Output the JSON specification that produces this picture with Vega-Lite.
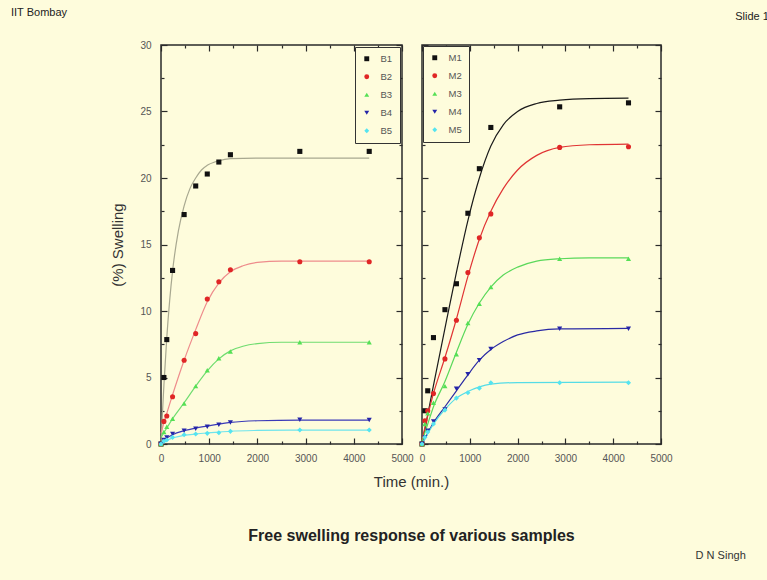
{
  "$schema": "https://vega.github.io/schema/vega-lite/v6.json",
  "background": "#fefcdc",
  "padding": {"left": 10, "top": 6, "right": 0, "bottom": 30},
  "bounds": "flush",
  "spacing": 20,
  "config": {
    "font": "Liberation Sans",
    "view": {"stroke": "#2a2a2a", "strokeWidth": 1.5},
    "axis": {"domain": false, "grid": false, "tickColor": "#2a2a2a", "tickWidth": 1.2, "labelFont": "Liberation Sans", "labelFontSize": 10, "labelColor": "#555555", "titleFont": "Liberation Sans", "titleFontSize": 15, "titleFontWeight": "normal", "titleColor": "#333333"},
    "legend": {"labelFont": "Liberation Sans"},
    "title": {"font": "Liberation Sans"}
  },
  "title": {"text": "D N Singh", "orient": "bottom", "anchor": "end", "fontSize": 11, "fontWeight": "normal", "color": "#333333", "dx": -30, "offset": 6},
  "datasets": {
    "pts": [
      {"p":"B","s":"B1","t":0,"v":0},{"p":"B","s":"B1","t":60,"v":5.0},{"p":"B","s":"B1","t":120,"v":7.85},{"p":"B","s":"B1","t":240,"v":13.05},{"p":"B","s":"B1","t":480,"v":17.25},{"p":"B","s":"B1","t":720,"v":19.4},{"p":"B","s":"B1","t":960,"v":20.3},{"p":"B","s":"B1","t":1200,"v":21.2},{"p":"B","s":"B1","t":1440,"v":21.75},{"p":"B","s":"B1","t":2880,"v":22.0},{"p":"B","s":"B1","t":4320,"v":22.0},
      {"p":"B","s":"B2","t":0,"v":0},{"p":"B","s":"B2","t":60,"v":1.7},{"p":"B","s":"B2","t":120,"v":2.1},{"p":"B","s":"B2","t":240,"v":3.55},{"p":"B","s":"B2","t":480,"v":6.3},{"p":"B","s":"B2","t":720,"v":8.3},{"p":"B","s":"B2","t":960,"v":10.9},{"p":"B","s":"B2","t":1200,"v":12.2},{"p":"B","s":"B2","t":1440,"v":13.1},{"p":"B","s":"B2","t":2880,"v":13.7},{"p":"B","s":"B2","t":4320,"v":13.7},
      {"p":"B","s":"B3","t":0,"v":0},{"p":"B","s":"B3","t":60,"v":0.9},{"p":"B","s":"B3","t":120,"v":1.3},{"p":"B","s":"B3","t":240,"v":1.9},{"p":"B","s":"B3","t":480,"v":3.05},{"p":"B","s":"B3","t":720,"v":4.35},{"p":"B","s":"B3","t":960,"v":5.55},{"p":"B","s":"B3","t":1200,"v":6.45},{"p":"B","s":"B3","t":1440,"v":6.95},{"p":"B","s":"B3","t":2880,"v":7.65},{"p":"B","s":"B3","t":4320,"v":7.65},
      {"p":"B","s":"B4","t":0,"v":0},{"p":"B","s":"B4","t":60,"v":0.3},{"p":"B","s":"B4","t":120,"v":0.5},{"p":"B","s":"B4","t":240,"v":0.75},{"p":"B","s":"B4","t":480,"v":1.0},{"p":"B","s":"B4","t":720,"v":1.15},{"p":"B","s":"B4","t":960,"v":1.3},{"p":"B","s":"B4","t":1200,"v":1.45},{"p":"B","s":"B4","t":1440,"v":1.62},{"p":"B","s":"B4","t":2880,"v":1.82},{"p":"B","s":"B4","t":4320,"v":1.8},
      {"p":"B","s":"B5","t":0,"v":0},{"p":"B","s":"B5","t":60,"v":0.2},{"p":"B","s":"B5","t":120,"v":0.3},{"p":"B","s":"B5","t":240,"v":0.5},{"p":"B","s":"B5","t":480,"v":0.7},{"p":"B","s":"B5","t":720,"v":0.75},{"p":"B","s":"B5","t":960,"v":0.8},{"p":"B","s":"B5","t":1200,"v":0.85},{"p":"B","s":"B5","t":1440,"v":0.95},{"p":"B","s":"B5","t":2880,"v":1.05},{"p":"B","s":"B5","t":4320,"v":1.05},
      {"p":"M","s":"M1","t":0,"v":0},{"p":"M","s":"M1","t":60,"v":2.5},{"p":"M","s":"M1","t":120,"v":4.0},{"p":"M","s":"M1","t":240,"v":8.0},{"p":"M","s":"M1","t":480,"v":10.1},{"p":"M","s":"M1","t":720,"v":12.05},{"p":"M","s":"M1","t":960,"v":17.35},{"p":"M","s":"M1","t":1200,"v":20.7},{"p":"M","s":"M1","t":1440,"v":23.8},{"p":"M","s":"M1","t":2880,"v":25.35},{"p":"M","s":"M1","t":4320,"v":25.65},
      {"p":"M","s":"M2","t":0,"v":0},{"p":"M","s":"M2","t":60,"v":1.75},{"p":"M","s":"M2","t":120,"v":2.5},{"p":"M","s":"M2","t":240,"v":3.8},{"p":"M","s":"M2","t":480,"v":6.4},{"p":"M","s":"M2","t":720,"v":9.3},{"p":"M","s":"M2","t":960,"v":12.9},{"p":"M","s":"M2","t":1200,"v":15.5},{"p":"M","s":"M2","t":1440,"v":17.3},{"p":"M","s":"M2","t":2880,"v":22.3},{"p":"M","s":"M2","t":4320,"v":22.35},
      {"p":"M","s":"M3","t":0,"v":0},{"p":"M","s":"M3","t":60,"v":1.5},{"p":"M","s":"M3","t":120,"v":2.3},{"p":"M","s":"M3","t":240,"v":3.1},{"p":"M","s":"M3","t":480,"v":4.35},{"p":"M","s":"M3","t":720,"v":6.75},{"p":"M","s":"M3","t":960,"v":9.1},{"p":"M","s":"M3","t":1200,"v":10.55},{"p":"M","s":"M3","t":1440,"v":11.8},{"p":"M","s":"M3","t":2880,"v":13.93},{"p":"M","s":"M3","t":4320,"v":13.93},
      {"p":"M","s":"M4","t":0,"v":0},{"p":"M","s":"M4","t":60,"v":0.5},{"p":"M","s":"M4","t":120,"v":1.0},{"p":"M","s":"M4","t":240,"v":1.7},{"p":"M","s":"M4","t":480,"v":2.6},{"p":"M","s":"M4","t":720,"v":4.15},{"p":"M","s":"M4","t":960,"v":5.25},{"p":"M","s":"M4","t":1200,"v":6.3},{"p":"M","s":"M4","t":1440,"v":7.15},{"p":"M","s":"M4","t":2880,"v":8.67},{"p":"M","s":"M4","t":4320,"v":8.67},
      {"p":"M","s":"M5","t":0,"v":0},{"p":"M","s":"M5","t":60,"v":0.5},{"p":"M","s":"M5","t":120,"v":0.9},{"p":"M","s":"M5","t":240,"v":1.5},{"p":"M","s":"M5","t":480,"v":2.55},{"p":"M","s":"M5","t":720,"v":3.45},{"p":"M","s":"M5","t":960,"v":3.85},{"p":"M","s":"M5","t":1200,"v":4.2},{"p":"M","s":"M5","t":1440,"v":4.6},{"p":"M","s":"M5","t":2880,"v":4.6},{"p":"M","s":"M5","t":4320,"v":4.6}
    ],
    "fit": [
      {"p":"B","s":"B1","t":0,"v":0},{"p":"B","s":"B1","t":30,"v":2.3},{"p":"B","s":"B1","t":60,"v":4.4},{"p":"B","s":"B1","t":120,"v":8.0},{"p":"B","s":"B1","t":180,"v":10.8},{"p":"B","s":"B1","t":240,"v":13.0},{"p":"B","s":"B1","t":360,"v":16.0},{"p":"B","s":"B1","t":480,"v":17.9},{"p":"B","s":"B1","t":600,"v":19.2},{"p":"B","s":"B1","t":720,"v":20.0},{"p":"B","s":"B1","t":840,"v":20.6},{"p":"B","s":"B1","t":960,"v":20.95},{"p":"B","s":"B1","t":1200,"v":21.3},{"p":"B","s":"B1","t":1440,"v":21.45},{"p":"B","s":"B1","t":2000,"v":21.5},{"p":"B","s":"B1","t":3000,"v":21.5},{"p":"B","s":"B1","t":4320,"v":21.5},
      {"p":"B","s":"B2","t":0,"v":0.8},{"p":"B","s":"B2","t":60,"v":1.6},{"p":"B","s":"B2","t":120,"v":2.3},{"p":"B","s":"B2","t":240,"v":3.7},{"p":"B","s":"B2","t":480,"v":6.3},{"p":"B","s":"B2","t":720,"v":8.6},{"p":"B","s":"B2","t":960,"v":10.7},{"p":"B","s":"B2","t":1200,"v":12.1},{"p":"B","s":"B2","t":1440,"v":12.95},{"p":"B","s":"B2","t":1700,"v":13.4},{"p":"B","s":"B2","t":2000,"v":13.65},{"p":"B","s":"B2","t":2500,"v":13.75},{"p":"B","s":"B2","t":4320,"v":13.75},
      {"p":"B","s":"B3","t":0,"v":0.5},{"p":"B","s":"B3","t":120,"v":1.2},{"p":"B","s":"B3","t":240,"v":1.9},{"p":"B","s":"B3","t":480,"v":3.1},{"p":"B","s":"B3","t":720,"v":4.35},{"p":"B","s":"B3","t":960,"v":5.5},{"p":"B","s":"B3","t":1200,"v":6.4},{"p":"B","s":"B3","t":1440,"v":7.0},{"p":"B","s":"B3","t":1700,"v":7.35},{"p":"B","s":"B3","t":2000,"v":7.55},{"p":"B","s":"B3","t":2500,"v":7.65},{"p":"B","s":"B3","t":4320,"v":7.65},
      {"p":"B","s":"B4","t":0,"v":0.1},{"p":"B","s":"B4","t":120,"v":0.45},{"p":"B","s":"B4","t":240,"v":0.7},{"p":"B","s":"B4","t":480,"v":1.0},{"p":"B","s":"B4","t":720,"v":1.2},{"p":"B","s":"B4","t":960,"v":1.35},{"p":"B","s":"B4","t":1200,"v":1.5},{"p":"B","s":"B4","t":1440,"v":1.62},{"p":"B","s":"B4","t":2000,"v":1.75},{"p":"B","s":"B4","t":2880,"v":1.8},{"p":"B","s":"B4","t":4320,"v":1.8},
      {"p":"B","s":"B5","t":0,"v":0.05},{"p":"B","s":"B5","t":120,"v":0.3},{"p":"B","s":"B5","t":240,"v":0.45},{"p":"B","s":"B5","t":480,"v":0.65},{"p":"B","s":"B5","t":720,"v":0.75},{"p":"B","s":"B5","t":960,"v":0.83},{"p":"B","s":"B5","t":1200,"v":0.9},{"p":"B","s":"B5","t":1440,"v":0.96},{"p":"B","s":"B5","t":2000,"v":1.02},{"p":"B","s":"B5","t":2880,"v":1.05},{"p":"B","s":"B5","t":4320,"v":1.05},
      {"p":"M","s":"M1","t":0,"v":0},{"p":"M","s":"M1","t":240,"v":4.4},{"p":"M","s":"M1","t":480,"v":8.7},{"p":"M","s":"M1","t":720,"v":12.9},{"p":"M","s":"M1","t":960,"v":16.8},{"p":"M","s":"M1","t":1200,"v":20.0},{"p":"M","s":"M1","t":1440,"v":22.4},{"p":"M","s":"M1","t":1700,"v":24.0},{"p":"M","s":"M1","t":2000,"v":25.0},{"p":"M","s":"M1","t":2400,"v":25.6},{"p":"M","s":"M1","t":2880,"v":25.85},{"p":"M","s":"M1","t":3500,"v":25.97},{"p":"M","s":"M1","t":4320,"v":26.0},
      {"p":"M","s":"M2","t":0,"v":0.3},{"p":"M","s":"M2","t":240,"v":3.8},{"p":"M","s":"M2","t":480,"v":6.5},{"p":"M","s":"M2","t":720,"v":9.4},{"p":"M","s":"M2","t":960,"v":12.6},{"p":"M","s":"M2","t":1200,"v":15.4},{"p":"M","s":"M2","t":1440,"v":17.5},{"p":"M","s":"M2","t":1700,"v":19.2},{"p":"M","s":"M2","t":2000,"v":20.6},{"p":"M","s":"M2","t":2400,"v":21.7},{"p":"M","s":"M2","t":2880,"v":22.3},{"p":"M","s":"M2","t":3500,"v":22.5},{"p":"M","s":"M2","t":4320,"v":22.55},
      {"p":"M","s":"M3","t":0,"v":0.2},{"p":"M","s":"M3","t":120,"v":1.5},{"p":"M","s":"M3","t":240,"v":2.8},{"p":"M","s":"M3","t":480,"v":4.7},{"p":"M","s":"M3","t":720,"v":6.9},{"p":"M","s":"M3","t":960,"v":9.0},{"p":"M","s":"M3","t":1200,"v":10.6},{"p":"M","s":"M3","t":1440,"v":11.8},{"p":"M","s":"M3","t":1700,"v":12.7},{"p":"M","s":"M3","t":2000,"v":13.3},{"p":"M","s":"M3","t":2400,"v":13.75},{"p":"M","s":"M3","t":2880,"v":13.93},{"p":"M","s":"M3","t":3500,"v":14.0},{"p":"M","s":"M3","t":4320,"v":14.0},
      {"p":"M","s":"M4","t":0,"v":0},{"p":"M","s":"M4","t":240,"v":1.6},{"p":"M","s":"M4","t":480,"v":2.8},{"p":"M","s":"M4","t":720,"v":4.0},{"p":"M","s":"M4","t":960,"v":5.2},{"p":"M","s":"M4","t":1200,"v":6.3},{"p":"M","s":"M4","t":1440,"v":7.1},{"p":"M","s":"M4","t":1700,"v":7.7},{"p":"M","s":"M4","t":2000,"v":8.2},{"p":"M","s":"M4","t":2400,"v":8.5},{"p":"M","s":"M4","t":2880,"v":8.65},{"p":"M","s":"M4","t":4320,"v":8.7},
      {"p":"M","s":"M5","t":0,"v":0},{"p":"M","s":"M5","t":240,"v":1.5},{"p":"M","s":"M5","t":480,"v":2.6},{"p":"M","s":"M5","t":720,"v":3.45},{"p":"M","s":"M5","t":960,"v":3.95},{"p":"M","s":"M5","t":1200,"v":4.3},{"p":"M","s":"M5","t":1440,"v":4.5},{"p":"M","s":"M5","t":2000,"v":4.62},{"p":"M","s":"M5","t":4320,"v":4.65}
    ]
  },
  "hconcat": [
    {
      "width": 241, "height": 399,
      "title": {"text": "IIT Bombay", "anchor": "start", "frame": "group", "dx": -150, "offset": 22, "fontSize": 11, "fontWeight": "normal", "color": "#222222"},
      "layer": [
        {
          "data": {"name": "fit"},
          "transform": [{"filter": "datum.p === 'B'"}],
          "mark": {"type": "line", "interpolate": "monotone", "strokeWidth": 1.2},
          "encoding": {
            "x": {"field": "t", "type": "quantitative", "scale": {"domain": [0, 5000], "nice": false},
              "axis": {"orient": "top", "labels": false, "title": null, "values": [0,500,1000,1500,2000,2500,3000,3500,4000,4500,5000], "tickSize": {"condition": {"test": "datum.value % 1000 === 0", "value": -6}, "value": -3}}},
            "y": {"field": "v", "type": "quantitative", "scale": {"domain": [0, 30], "nice": false},
              "axis": {"orient": "right", "labels": false, "title": null, "values": [0,2.5,5,7.5,10,12.5,15,17.5,20,22.5,25,27.5,30], "tickSize": {"condition": {"test": "datum.value % 5 === 0", "value": -6}, "value": -3}}},
            "detail": {"field": "s", "type": "nominal"},
            "stroke": {"field": "s", "type": "nominal", "legend": null,
              "scale": {"range": ["#a8a890","#ee8c8c","#6fdc6f","#3a3ab8","#6fe4ec"]}}
          }
        },
        {
          "data": {"name": "pts"},
          "transform": [{"filter": "datum.p === 'B'"}],
          "mark": {"type": "point", "filled": true, "size": 26, "opacity": 1},
          "encoding": {
            "x": {"field": "t", "type": "quantitative", "scale": {"domain": [0, 5000], "nice": false},
              "axis": {"orient": "bottom", "title": "Time (min.)", "titleX": 250, "titleY": 30, "titleAnchor": "middle", "format": "d", "values": [0,500,1000,1500,2000,2500,3000,3500,4000,4500,5000], "labelExpr": "datum.value % 1000 === 0 ? datum.label : ''", "labelPadding": 15, "labelFlush": false, "labelOverlap": false, "tickSize": {"condition": {"test": "datum.value % 1000 === 0", "value": -6}, "value": -3}}},
            "y": {"field": "v", "type": "quantitative", "scale": {"domain": [0, 30], "nice": false},
              "axis": {"orient": "left", "title": "(%) Swelling", "titlePadding": 14, "values": [0,2.5,5,7.5,10,12.5,15,17.5,20,22.5,25,27.5,30], "labelExpr": "datum.value % 5 === 0 ? datum.label : ''", "labelPadding": 16, "labelFlush": false, "labelOverlap": false, "tickSize": {"condition": {"test": "datum.value % 5 === 0", "value": -6}, "value": -3}}},
            "color": {"field": "s", "type": "nominal",
              "scale": {"domain": ["B1","B2","B3","B4","B5"], "range": ["#111111","#e02626","#55e055","#2424a8","#55e4f0"]},
              "legend": {"title": null, "orient": "top-right", "offset": 2, "strokeColor": "#333333", "fillColor": "#fefcdc", "padding": 7, "labelFontSize": 9.5, "labelColor": "#555555", "symbolSize": 24, "rowPadding": 7, "labelOffset": 9}},
            "shape": {"field": "s", "type": "nominal",
              "scale": {"domain": ["B1","B2","B3","B4","B5"], "range": ["square","circle","triangle-up","triangle-down","diamond"]},
              "legend": {"title": null, "orient": "top-right", "offset": 2, "strokeColor": "#333333", "fillColor": "#fefcdc", "padding": 7, "labelFontSize": 9.5, "labelColor": "#555555", "symbolSize": 24, "rowPadding": 7, "labelOffset": 9}}
          }
        }
      ],
      "resolve": {"axis": {"x": "independent", "y": "independent"}}
    },
    {
      "width": 239, "height": 399,
      "title": {"text": "Slide 14", "anchor": "end", "frame": "group", "dx": 114, "offset": 22, "fontSize": 11, "fontWeight": "normal", "color": "#222222"},
      "layer": [
        {
          "data": {"name": "fit"},
          "transform": [{"filter": "datum.p === 'M'"}],
          "mark": {"type": "line", "interpolate": "monotone", "strokeWidth": 1.2},
          "encoding": {
            "x": {"field": "t", "type": "quantitative", "scale": {"domain": [0, 5000], "nice": false},
              "axis": {"orient": "top", "labels": false, "title": null, "values": [0,500,1000,1500,2000,2500,3000,3500,4000,4500,5000], "tickSize": {"condition": {"test": "datum.value % 1000 === 0", "value": -6}, "value": -3}}},
            "y": {"field": "v", "type": "quantitative", "scale": {"domain": [0, 30], "nice": false},
              "axis": {"orient": "right", "labels": false, "title": null, "values": [0,2.5,5,7.5,10,12.5,15,17.5,20,22.5,25,27.5,30], "tickSize": {"condition": {"test": "datum.value % 5 === 0", "value": -6}, "value": -3}}},
            "detail": {"field": "s", "type": "nominal"},
            "stroke": {"field": "s", "type": "nominal", "legend": null,
              "scale": {"range": ["#1a1a1a","#e03434","#5ad85a","#2a2aa4","#55dce6"]}}
          }
        },
        {
          "data": {"name": "pts"},
          "transform": [{"filter": "datum.p === 'M'"}],
          "mark": {"type": "point", "filled": true, "size": 26, "opacity": 1},
          "encoding": {
            "x": {"field": "t", "type": "quantitative", "scale": {"domain": [0, 5000], "nice": false},
              "axis": {"orient": "bottom", "format": "d", "title": "Free swelling response of various samples", "titleFontWeight": "bold", "titleFontSize": 16, "titleColor": "#222222", "titleX": -11, "titleY": 83, "titleAnchor": "middle", "values": [0,500,1000,1500,2000,2500,3000,3500,4000,4500,5000], "labelExpr": "datum.value % 1000 === 0 ? datum.label : ''", "labelPadding": 15, "labelFlush": false, "labelOverlap": false, "tickSize": {"condition": {"test": "datum.value % 1000 === 0", "value": -6}, "value": -3}}},
            "y": {"field": "v", "type": "quantitative", "scale": {"domain": [0, 30], "nice": false},
              "axis": {"orient": "left", "labels": false, "title": null, "values": [0,2.5,5,7.5,10,12.5,15,17.5,20,22.5,25,27.5,30], "tickSize": {"condition": {"test": "datum.value % 5 === 0", "value": -6}, "value": -3}}},
            "color": {"field": "s", "type": "nominal",
              "scale": {"domain": ["M1","M2","M3","M4","M5"], "range": ["#111111","#e02626","#55e055","#2424a8","#55e4f0"]},
              "legend": {"title": null, "orient": "top-left", "offset": 1, "strokeColor": "#333333", "fillColor": "#fefcdc", "padding": 7, "labelFontSize": 9.5, "labelColor": "#555555", "symbolSize": 24, "rowPadding": 7, "labelOffset": 9}},
            "shape": {"field": "s", "type": "nominal",
              "scale": {"domain": ["M1","M2","M3","M4","M5"], "range": ["square","circle","triangle-up","triangle-down","diamond"]},
              "legend": {"title": null, "orient": "top-left", "offset": 1, "strokeColor": "#333333", "fillColor": "#fefcdc", "padding": 7, "labelFontSize": 9.5, "labelColor": "#555555", "symbolSize": 24, "rowPadding": 7, "labelOffset": 9}}
          }
        }
      ],
      "resolve": {"axis": {"x": "independent", "y": "independent"}}
    }
  ],
  "resolve": {"scale": {"x": "independent", "y": "independent", "color": "independent", "shape": "independent", "stroke": "independent"}, "legend": {"color": "independent", "shape": "independent"}}
}
